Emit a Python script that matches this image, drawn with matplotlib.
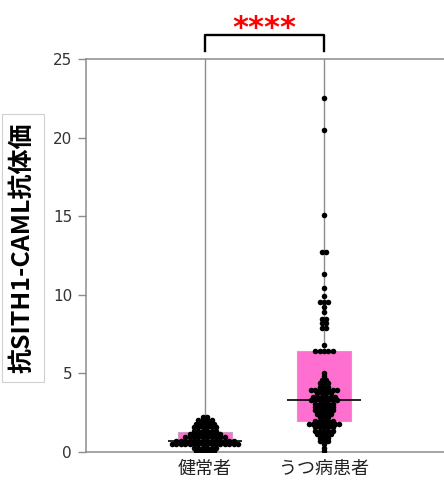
import matplotlib
matplotlib.use("Agg")
import matplotlib.pyplot as plt
import numpy as np

plt.rcParams['font.family'] = ['Noto Sans CJK JP', 'DejaVu Sans']

groups = ["健常者", "うつ病患者"]

# dot rows: value of the row, number of dots in it
healthy_levels = [0.06, 0.28, 0.50, 0.71, 0.93, 1.15, 1.36, 1.58, 1.80, 2.01, 2.23]
healthy_counts = [5, 6, 16, 14, 10, 8, 6, 6, 5, 4, 2]

depress_levels = [0.05, 0.27, 0.48, 0.70, 0.92, 1.13, 1.35, 1.56, 1.78, 2.00,
                  2.21, 2.43, 2.65, 2.86, 3.08, 3.30, 3.51, 3.73, 3.94, 4.16,
                  4.38, 4.59, 4.81, 5.03, 6.45, 6.8, 7.9, 8.2, 8.45, 8.9,
                  9.2, 9.55, 9.9, 10.45, 11.3, 12.75, 15.05, 20.5, 22.5]
depress_counts = [1, 1, 1, 3, 3, 4, 5, 5, 8, 5,
                  3, 4, 5, 5, 5, 7, 6, 4, 7, 3,
                  3, 2, 1, 1, 5, 1, 2, 2, 2, 1,
                  1, 3, 1, 1, 1, 2, 1, 1, 1]

# box: lower edge, median, upper edge
box_low = [0.55, 2.0]
box_med = [0.72, 3.33]
box_high = [1.25, 6.4]

yticks = [0, 5, 10, 15, 20, 25]

fig = plt.figure(figsize=(4.44, 4.84), dpi=100)
ax = fig.add_axes([86/444, 32/484, 358/444, 393/484])

ax.set_xlim(-1, 2.008)
ax.set_ylim(0, 25)

for i in range(2):
    ax.axvline(i, color="#8c8c8c", lw=1.0, zorder=1)

# boxes and medians
ax.bar([0, 1], np.array(box_high) - np.array(box_low), bottom=box_low, width=0.46,
       color="#ff6fcf", edgecolor="#c9a0bf", linewidth=0.8, zorder=2)
for i in range(2):
    ax.hlines(box_med[i], i - 0.31, i + 0.31, color="black", lw=1.2, zorder=4)

# dot rows
dx = 0.037
for i, (levels, counts) in enumerate([(healthy_levels, healthy_counts),
                                      (depress_levels, depress_counts)]):
    xs = []
    ys = []
    for v, n in zip(levels, counts):
        for k in range(n):
            xs.append(i + (k - (n - 1) / 2) * dx)
            ys.append(v)
    ax.plot(xs, ys, "o", color="black", ms=4.0, mew=0, zorder=3)

for s in ["top", "bottom", "left"]:
    ax.spines[s].set_color("#8c8c8c")
    ax.spines[s].set_linewidth(1.1)
ax.spines["right"].set_visible(False)

ax.set_yticks(yticks)
ax.set_yticklabels([str(t) for t in yticks], fontfamily="DejaVu Sans", fontsize=11, color="#333333")
ax.tick_params(axis="y", length=6, color="#8c8c8c", width=1.0, pad=4)
ax.set_xticks([0, 1])
ax.set_xticklabels(groups, fontsize=13, color="#222222")
ax.tick_params(axis="x", length=0, pad=6)

# significance bracket
ax.plot([0, 0, 1, 1], [25.5, 26.53, 26.53, 25.5], color="black", lw=1.7, clip_on=False)
ax.text(0.5, 26.95, "****", ha="center", va="center", color="red", fontsize=22,
        fontweight="bold", fontfamily="DejaVu Sans")

fig.text(23/444, 1 - 248/484, "抗SITH1-CAML抗体価", rotation=90, ha="center", va="center",
         fontsize=18, fontweight="bold", color="black",
         bbox=dict(boxstyle="square,pad=0.35", facecolor="white", edgecolor="#d0d0d0", lw=0.8))

fig.savefig("out.png", dpi=100)
